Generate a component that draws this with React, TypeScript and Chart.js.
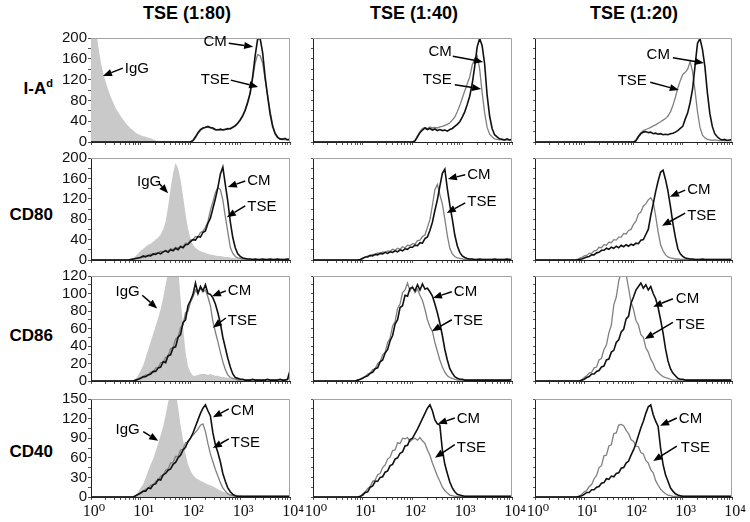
import React, { useEffect, useRef } from "react";
import { Chart, registerables } from "chart.js";

Chart.register(...registerables);

// ---------------- bins (log10 channel, 0.05 decade apart) ----------------
const BIN_STEP = 0.05;
const N_BINS = 81;
const BIN_X: number[] = Array.from({ length: N_BINS }, (_, i) => Math.pow(10, i * BIN_STEP));

// x tick positions (log decades with minor ticks)
const X_TICKS: number[] = [];
for (let d = 0; d < 4; d++) for (let m = 1; m < 10; m++) X_TICKS.push(m * Math.pow(10, d));
X_TICKS.push(10000);
const SUP = ["⁰", "¹", "²", "³", "⁴"];

const COLUMN_TITLES = ["TSE (1:80)", "TSE (1:40)", "TSE (1:20)"];
const ROW_NAMES = ["I-A", "CD80", "CD86", "CD40"];
const Y_MAX = [200, 200, 120, 150];
const Y_MINOR = [20, 20, 10, 15];
const Y_LABEL_STEP = [40, 40, 20, 30];

// ---------------- I-A(d) ----------------
const IGG_IA = [
  262, 246, 216, 182, 152, 131, 114, 99, 86, 75,
  64, 57, 49, 43, 36, 31, 26, 22, 18, 15,
  13, 11, 10, 8, 7, 5, 3, 2, 2, 1,
  1, 1, 0, 0, 0, 0, 0, 0, 0, 0,
  0, 0, 0, 0, 0, 0, 0, 0, 0, 0,
  0, 0, 0, 0, 0, 0, 0, 0, 0, 0,
  0, 0, 0, 0, 0, 0, 0, 0, 0, 0,
  0, 0, 0, 0, 0, 0, 0, 0, 0, 0,
  0,
];
const CM_IA_80 = [
  0, 0, 0, 0, 0, 0, 0, 0, 0, 0,
  0, 0, 0, 0, 0, 0, 0, 0, 0, 0,
  0, 0, 0, 0, 0, 0, 0, 0, 0, 0,
  0, 0, 0, 0, 0, 0, 0, 0, 0, 0,
  0, 3, 10, 18, 24, 27, 28, 30, 28, 27,
  24, 23, 25, 23, 24, 26, 25, 28, 31, 36,
  42, 50, 61, 76, 94, 126, 166, 198, 199, 172,
  125, 88, 54, 30, 16, 9, 6, 5, 7, 4,
  6,
];
const TSE_IA_80 = [
  0, 0, 0, 0, 0, 0, 0, 0, 0, 0,
  0, 0, 0, 0, 0, 0, 0, 0, 0, 0,
  0, 0, 0, 0, 0, 0, 0, 0, 0, 0,
  0, 0, 0, 0, 0, 0, 0, 0, 0, 0,
  0, 2, 8, 16, 22, 26, 29, 28, 27, 25,
  23, 24, 22, 24, 25, 24, 27, 29, 32, 37,
  44, 52, 63, 78, 96, 122, 152, 168, 166, 152,
  120, 90, 60, 34, 18, 10, 5, 6, 4, 5,
  3,
];
const CM_IA_40 = [
  0, 0, 0, 0, 0, 0, 0, 0, 0, 0,
  0, 0, 0, 0, 0, 0, 0, 0, 0, 0,
  0, 0, 0, 0, 0, 0, 0, 0, 0, 0,
  0, 0, 0, 0, 0, 0, 0, 0, 0, 0,
  0, 2, 10, 18, 23, 27, 24, 26, 23, 25,
  22, 24, 22, 23, 21, 24, 26, 30, 34, 39,
  48, 58, 72, 88, 112, 145, 183, 199, 185, 150,
  90, 50, 26, 14, 10, 6, 5, 4, 6, 4,
  5,
];
const TSE_IA_40 = [
  0, 0, 0, 0, 0, 0, 0, 0, 0, 0,
  0, 0, 0, 0, 0, 0, 0, 0, 0, 0,
  0, 0, 0, 0, 0, 0, 0, 0, 0, 0,
  0, 0, 0, 0, 0, 0, 0, 0, 0, 0,
  0, 3, 12, 20, 26, 28, 26, 29, 27, 28,
  27, 29, 30, 32, 34, 37, 42, 48, 58, 70,
  84, 98, 112, 125, 148, 160, 166, 140, 95, 56,
  28, 15, 10, 6, 5, 4, 5, 3, 4, 3,
  4,
];
const CM_IA_20 = [
  0, 0, 0, 0, 0, 0, 0, 0, 0, 0,
  0, 0, 0, 0, 0, 0, 0, 0, 0, 0,
  0, 0, 0, 0, 0, 0, 0, 0, 0, 0,
  0, 0, 0, 0, 0, 0, 0, 0, 0, 0,
  0, 2, 10, 16, 19, 20, 18, 19, 16, 17,
  15, 16, 14, 15, 14, 16, 17, 19, 22, 26,
  30, 44, 56, 76, 102, 147, 190, 199, 178, 145,
  95, 55, 30, 16, 10, 6, 4, 5, 3, 4,
  5,
];
const TSE_IA_20 = [
  0, 0, 0, 0, 0, 0, 0, 0, 0, 0,
  0, 0, 0, 0, 0, 0, 0, 0, 0, 0,
  0, 0, 0, 0, 0, 0, 0, 0, 0, 0,
  0, 0, 0, 0, 0, 0, 0, 0, 0, 0,
  0, 4, 12, 18, 22, 24, 26, 28, 31, 33,
  36, 39, 42, 45, 50, 58, 70, 86, 104, 118,
  130, 134, 140, 155, 135, 98, 58, 28, 13, 8,
  5, 4, 3, 4, 3, 2, 3, 2, 3, 2,
  3,
];

// ---------------- CD80 ----------------
const IGG_CD80 = [
  0, 0, 0, 0, 0, 0, 0, 0, 0, 0,
  0, 0, 0, 0, 0, 0, 1, 4, 8, 13,
  18, 22, 26, 30, 32, 36, 40, 44, 50, 60,
  75, 105, 140, 170, 190, 180, 158, 125, 90, 62,
  42, 30, 24, 20, 17, 15, 14, 12, 11, 10,
  9, 8, 8, 7, 6, 6, 5, 4, 4, 3,
  3, 2, 2, 1, 1, 0, 0, 0, 0, 0,
  0, 0, 0, 0, 0, 0, 0, 0, 0, 0,
  0,
];
const CM_CD80_80 = [
  0, 0, 0, 0, 0, 0, 0, 0, 0, 0,
  0, 0, 0, 0, 0, 0, 1, 2, 3, 4,
  5, 8, 6, 9, 8, 12, 11, 14, 12, 16,
  18, 15, 20, 18, 23, 20, 26, 24, 30, 31,
  36, 40, 39, 46, 45, 54, 57, 72, 82, 101,
  120, 142, 168, 182, 148, 115, 75, 44, 24, 12,
  7, 4, 3, 2, 2, 1, 2, 1, 1, 2,
  1, 1, 2, 1, 1, 2, 1, 1, 1, 2,
  1,
];
const TSE_CD80_80 = [
  0, 0, 0, 0, 0, 0, 0, 0, 0, 0,
  0, 0, 0, 0, 0, 0, 1, 2, 3, 4,
  6, 5, 9, 8, 12, 10, 14, 13, 17, 15,
  19, 17, 22, 20, 25, 23, 28, 26, 33, 32,
  39, 40, 46, 45, 54, 56, 64, 75, 97, 114,
  132, 142, 138, 118, 85, 55, 25, 13, 7, 4,
  3, 2, 2, 1, 1, 1, 1, 1, 1, 1,
  1, 1, 1, 1, 1, 1, 1, 1, 1, 1,
  1,
];
const CM_CD80_40 = [
  0, 0, 0, 0, 0, 0, 0, 0, 0, 0,
  0, 0, 0, 0, 0, 0, 0, 0, 0, 1,
  3, 6, 6, 9, 8, 11, 10, 13, 12, 15,
  13, 16, 15, 18, 16, 20, 18, 22, 21, 25,
  25, 29, 28, 34, 33, 42, 45, 58, 74, 97,
  118, 145, 170, 178, 140, 108, 80, 49, 28, 15,
  8, 5, 3, 2, 2, 1, 1, 2, 1, 1,
  1, 1, 1, 2, 1, 1, 1, 1, 2, 1,
  1,
];
const TSE_CD80_40 = [
  0, 0, 0, 0, 0, 0, 0, 0, 0, 0,
  0, 0, 0, 0, 0, 0, 0, 0, 0, 1,
  4, 5, 8, 8, 11, 11, 14, 13, 16, 15,
  18, 17, 21, 19, 23, 21, 26, 24, 29, 28,
  32, 31, 38, 39, 46, 49, 64, 79, 107, 138,
  148, 128, 110, 80, 48, 23, 12, 7, 4, 3,
  2, 1, 1, 1, 1, 1, 1, 1, 1, 1,
  1, 1, 1, 1, 1, 1, 1, 1, 1, 1,
  1,
];
const CM_CD80_20 = [
  0, 0, 0, 0, 0, 0, 0, 0, 0, 0,
  0, 0, 0, 0, 0, 0, 0, 0, 1, 2,
  4, 6, 7, 10, 10, 14, 15, 19, 19, 23,
  21, 25, 23, 27, 24, 29, 26, 30, 27, 31,
  29, 33, 32, 39, 40, 50, 60, 87, 110, 134,
  155, 172, 176, 158, 135, 105, 72, 45, 22, 12,
  7, 4, 3, 2, 2, 1, 1, 1, 2, 1,
  1, 1, 1, 1, 1, 1, 1, 1, 1, 1,
  1,
];
const TSE_CD80_20 = [
  0, 0, 0, 0, 0, 0, 0, 0, 0, 0,
  0, 0, 0, 0, 0, 0, 0, 1, 3, 5,
  8, 9, 13, 13, 18, 19, 25, 24, 30, 29,
  35, 34, 40, 39, 45, 45, 52, 51, 58, 60,
  70, 76, 90, 94, 106, 110, 118, 122, 114, 86,
  55, 30, 18, 10, 6, 4, 3, 2, 2, 1,
  1, 1, 1, 1, 1, 1, 1, 1, 1, 1,
  1, 1, 1, 1, 1, 1, 1, 1, 1, 1,
  1,
];

// ---------------- CD86 ----------------
const IGG_CD86 = [
  0, 0, 0, 0, 0, 0, 0, 0, 0, 0,
  0, 0, 0, 0, 0, 0, 0, 0, 3, 7,
  12, 18, 27, 36, 45, 54, 63, 72, 82, 95,
  110, 124, 135, 140, 138, 130, 95, 62, 33, 17,
  10, 6, 6, 7, 8, 8, 8, 7, 8, 7,
  6, 6, 5, 5, 4, 4, 3, 3, 2, 2,
  1, 0, 0, 0, 0, 0, 0, 0, 0, 0,
  0, 0, 0, 0, 0, 0, 0, 0, 0, 0,
  0,
];
const CM_CD86_80 = [
  0, 0, 0, 0, 0, 0, 0, 0, 0, 0,
  0, 0, 0, 0, 0, 0, 0, 0, 1, 2,
  3, 5, 5, 7, 8, 11, 11, 15, 16, 22,
  21, 29, 30, 38, 39, 50, 53, 67, 70, 86,
  92, 99, 112, 100, 108, 103, 110, 100, 99, 95,
  88, 78, 66, 50, 38, 26, 16, 8, 4, 3,
  2, 2, 1, 1, 1, 2, 1, 1, 1, 1,
  1, 2, 1, 1, 1, 1, 2, 1, 1, 2,
  12,
];
const TSE_CD86_80 = [
  0, 0, 0, 0, 0, 0, 0, 0, 0, 0,
  0, 0, 0, 0, 0, 0, 0, 0, 1, 2,
  4, 4, 7, 7, 10, 10, 15, 15, 21, 21,
  27, 28, 37, 38, 48, 50, 61, 64, 78, 80,
  90, 96, 104, 100, 106, 102, 104, 96, 86, 68,
  56, 45, 33, 22, 13, 7, 4, 3, 2, 1,
  1, 1, 1, 1, 1, 1, 1, 1, 1, 1,
  1, 1, 1, 1, 1, 1, 1, 1, 1, 1,
  6,
];
const CM_CD86_40 = [
  0, 0, 0, 0, 0, 0, 0, 0, 0, 0,
  0, 0, 0, 0, 0, 0, 0, 0, 1, 2,
  3, 5, 6, 9, 10, 14, 15, 22, 24, 32,
  36, 46, 52, 65, 70, 84, 86, 98, 97, 106,
  107, 103, 110, 104, 111, 105, 106, 102, 97, 88,
  78, 66, 52, 36, 24, 14, 9, 5, 3, 2,
  2, 1, 1, 1, 1, 1, 1, 1, 1, 1,
  1, 1, 1, 1, 1, 1, 1, 1, 1, 1,
  2,
];
const TSE_CD86_40 = [
  0, 0, 0, 0, 0, 0, 0, 0, 0, 0,
  0, 0, 0, 0, 0, 0, 0, 0, 1, 2,
  4, 5, 8, 9, 13, 14, 20, 22, 30, 33,
  44, 49, 63, 68, 83, 88, 101, 104, 112, 103,
  108, 101, 105, 98, 92, 82, 70, 62, 57, 44,
  34, 24, 16, 10, 6, 4, 3, 2, 1, 1,
  1, 1, 1, 1, 1, 1, 1, 1, 1, 1,
  1, 1, 1, 1, 1, 1, 1, 1, 1, 1,
  1,
];
const CM_CD86_20 = [
  0, 0, 0, 0, 0, 0, 0, 0, 0, 0,
  0, 0, 0, 0, 0, 0, 0, 0, 0, 1,
  2, 4, 5, 8, 8, 11, 12, 16, 17, 24,
  25, 33, 35, 44, 47, 56, 59, 71, 74, 89,
  96, 104, 108, 112, 106, 110, 104, 108, 100, 94,
  84, 70, 55, 37, 23, 14, 9, 6, 3, 2,
  2, 1, 1, 1, 1, 1, 1, 1, 1, 1,
  1, 1, 1, 1, 1, 1, 1, 1, 1, 1,
  1,
];
const TSE_CD86_20 = [
  0, 0, 0, 0, 0, 0, 0, 0, 0, 0,
  0, 0, 0, 0, 0, 0, 0, 0, 0, 1,
  4, 6, 9, 10, 15, 16, 24, 26, 36, 41,
  55, 64, 87, 96, 114, 125, 128, 122, 106, 90,
  82, 69, 64, 53, 50, 38, 33, 25, 20, 13,
  10, 7, 5, 4, 3, 2, 1, 1, 1, 1,
  1, 1, 1, 1, 1, 1, 1, 1, 1, 1,
  1, 1, 1, 1, 1, 1, 1, 1, 1, 1,
  1,
];

// ---------------- CD40 ----------------
const IGG_CD40 = [
  0, 0, 0, 0, 0, 0, 0, 0, 0, 0,
  0, 0, 0, 0, 0, 0, 0, 0, 4, 8,
  14, 20, 30, 40, 50, 58, 70, 82, 95, 108,
  125, 145, 158, 162, 160, 138, 110, 88, 66, 50,
  40, 34, 29, 27, 25, 23, 21, 19, 18, 16,
  14, 12, 10, 8, 7, 6, 5, 4, 4, 3,
  3, 2, 1, 0, 0, 0, 0, 0, 0, 0,
  0, 0, 0, 0, 0, 0, 0, 0, 0, 0,
  0,
];
const CM_CD40_80 = [
  0, 0, 0, 0, 0, 0, 0, 0, 0, 0,
  0, 0, 0, 0, 0, 0, 0, 0, 2, 4,
  6, 9, 9, 14, 13, 19, 20, 27, 26, 34,
  36, 41, 43, 50, 53, 60, 64, 72, 76, 85,
  90, 98, 108, 118, 128, 136, 141, 132, 124, 98,
  80, 68, 54, 36, 24, 14, 8, 4, 2, 1,
  1, 1, 1, 1, 1, 1, 1, 1, 1, 1,
  1, 1, 1, 1, 1, 1, 1, 1, 1, 1,
  1,
];
const TSE_CD40_80 = [
  0, 0, 0, 0, 0, 0, 0, 0, 0, 0,
  0, 0, 0, 0, 0, 0, 0, 0, 2, 4,
  7, 8, 12, 13, 18, 18, 24, 25, 32, 33,
  41, 43, 52, 53, 62, 62, 72, 73, 83, 84,
  90, 95, 99, 104, 110, 112, 100, 82, 66, 54,
  42, 32, 22, 14, 9, 5, 3, 2, 1, 1,
  1, 1, 1, 1, 1, 1, 1, 1, 1, 1,
  1, 1, 1, 1, 1, 1, 1, 1, 1, 1,
  1,
];
const CM_CD40_40 = [
  0, 0, 0, 0, 0, 0, 0, 0, 0, 0,
  0, 0, 0, 0, 0, 0, 0, 0, 0, 1,
  3, 7, 8, 15, 17, 24, 24, 30, 31, 38,
  40, 48, 50, 58, 60, 67, 69, 78, 79, 88,
  90, 97, 104, 112, 120, 128, 136, 141, 132, 118,
  112, 110, 72, 50, 36, 23, 14, 8, 4, 3,
  2, 1, 1, 1, 1, 1, 1, 1, 1, 1,
  1, 1, 1, 1, 1, 1, 1, 1, 1, 1,
  1,
];
const TSE_CD40_40 = [
  0, 0, 0, 0, 0, 0, 0, 0, 0, 0,
  0, 0, 0, 0, 0, 0, 0, 0, 0, 1,
  5, 8, 13, 16, 24, 26, 34, 36, 45, 49,
  58, 61, 71, 72, 83, 82, 90, 89, 91, 85,
  88, 90, 87, 91, 86, 82, 72, 64, 52, 42,
  32, 24, 15, 10, 6, 3, 2, 1, 1, 1,
  1, 1, 1, 1, 1, 1, 1, 1, 1, 1,
  1, 1, 1, 1, 1, 1, 1, 1, 1, 1,
  1,
];
const CM_CD40_20 = [
  0, 0, 0, 0, 0, 0, 0, 0, 0, 0,
  0, 0, 0, 0, 0, 0, 0, 0, 1, 2,
  4, 7, 7, 11, 11, 15, 16, 21, 22, 28,
  27, 32, 31, 36, 37, 44, 45, 52, 55, 64,
  72, 82, 94, 106, 116, 128, 138, 141, 126, 116,
  108, 75, 50, 34, 24, 14, 9, 5, 3, 2,
  1, 1, 1, 1, 1, 1, 1, 1, 1, 1,
  1, 1, 1, 1, 1, 1, 1, 1, 1, 1,
  1,
];
const TSE_CD40_20 = [
  0, 0, 0, 0, 0, 0, 0, 0, 0, 0,
  0, 0, 0, 0, 0, 0, 0, 0, 1, 4,
  8, 10, 16, 19, 28, 33, 45, 48, 63, 64,
  78, 80, 97, 98, 110, 111, 109, 102, 97, 88,
  85, 78, 77, 68, 66, 56, 52, 42, 37, 25,
  18, 12, 8, 5, 3, 2, 1, 1, 1, 1,
  1, 1, 1, 1, 1, 1, 1, 1, 1, 1,
  1, 1, 1, 1, 1, 1, 1, 1, 1, 1,
  1,
];

// ---------------- annotations: [label, align, textLog, textVal, fromLog, fromVal, toLog, toVal] ----------------
type Note = [string, "left" | "right", number, number, number, number, number, number];
const NOTES_IA: Note[][] = [
  [["IgG", "left", 0.68, 140, 0.64, 142, 0.24, 127], ["CM", "right", 2.73, 192, 2.77, 190, 3.26, 183], ["TSE", "right", 2.79, 119, 2.81, 119, 3.36, 106]],
  [["CM", "right", 2.79, 173, 2.81, 165, 3.42, 154], ["TSE", "right", 2.79, 119, 2.85, 110, 3.38, 102]],
  [["CM", "right", 2.74, 167, 2.8, 162, 3.43, 152], ["TSE", "right", 2.27, 117, 2.34, 115, 2.92, 100]],
];
const NOTES_CD80: Note[][] = [
  [["IgG", "right", 1.41, 153, 1.37, 150, 1.55, 131], ["CM", "left", 3.14, 155, 3.1, 155, 2.75, 143], ["TSE", "left", 3.14, 104, 3.1, 106, 2.73, 84]],
  [["CM", "left", 3.1, 167, 3.06, 167, 2.71, 159], ["TSE", "left", 3.1, 114, 3.06, 112, 2.69, 92]],
  [["CM", "left", 3.09, 137, 3.05, 137, 2.74, 124], ["TSE", "left", 3.09, 86, 3.05, 92, 2.58, 67]],
];
const NOTES_CD86: Note[][] = [
  [["IgG", "right", 0.98, 102, 1.03, 98, 1.33, 83], ["CM", "left", 2.75, 103, 2.71, 103, 2.43, 97], ["TSE", "left", 2.75, 69, 2.71, 72, 2.45, 61]],
  [["CM", "left", 2.83, 102, 2.79, 102, 2.41, 95], ["TSE", "left", 2.83, 69, 2.79, 70, 2.39, 57]],
  [["CM", "left", 2.86, 94, 2.8, 94, 2.4, 85], ["TSE", "left", 2.86, 64, 2.8, 67, 2.23, 48]],
];
const NOTES_CD40: Note[][] = [
  [["IgG", "right", 0.98, 103, 1.05, 100, 1.35, 86], ["CM", "left", 2.81, 132, 2.77, 135, 2.45, 122], ["TSE", "left", 2.81, 83, 2.77, 89, 2.45, 75]],
  [["CM", "left", 2.89, 119, 2.85, 121, 2.51, 112], ["TSE", "left", 2.89, 75, 2.85, 80, 2.45, 60]],
  [["CM", "left", 2.92, 119, 2.88, 121, 2.54, 109], ["TSE", "left", 2.96, 75, 2.88, 78, 2.4, 55]],
];

const IGG_ROWS = [IGG_IA, IGG_CD80, IGG_CD86, IGG_CD40];
const CM_ROWS = [
  [CM_IA_80, CM_IA_40, CM_IA_20],
  [CM_CD80_80, CM_CD80_40, CM_CD80_20],
  [CM_CD86_80, CM_CD86_40, CM_CD86_20],
  [CM_CD40_80, CM_CD40_40, CM_CD40_20],
];
const TSE_ROWS = [
  [TSE_IA_80, TSE_IA_40, TSE_IA_20],
  [TSE_CD80_80, TSE_CD80_40, TSE_CD80_20],
  [TSE_CD86_80, TSE_CD86_40, TSE_CD86_20],
  [TSE_CD40_80, TSE_CD40_40, TSE_CD40_20],
];
const NOTE_ROWS = [NOTES_IA, NOTES_CD80, NOTES_CD86, NOTES_CD40];

// ---------------- layout ----------------
const PANEL_LEFT = [91, 313, 535];
const PANEL_RIGHT = [290, 512, 732];
const PANEL_TOP = [38, 158, 276, 399];
const PANEL_BOTTOM = [142, 260, 381, 497];
const TITLE_CX = [187, 414, 634];
const ROW_LABEL_CY = [89, 215, 336, 452];

const SANS = '"Liberation Sans", Arial, Helvetica, sans-serif';
const SERIF = '"Liberation Serif", "Times New Roman", "DejaVu Serif", serif';

function toPoints(arr: number[]) {
  return BIN_X.map((x, i) => ({ x, y: arr[i] ?? 0 }));
}

function Panel({ row, col }: { row: number; col: number }) {
  const ref = useRef<HTMLCanvasElement | null>(null);
  const yW = col === 0 ? 44 : 4;
  const padL = col === 0 ? 0 : 12;
  const padT = 10;
  const padR = 14;
  const xH = row === 3 ? 24 : 4;
  const padB = 8;
  const pw = PANEL_RIGHT[col] - PANEL_LEFT[col];
  const ph = PANEL_BOTTOM[row] - PANEL_TOP[row];
  const left = PANEL_LEFT[col] - yW - padL;
  const top = PANEL_TOP[row] - padT;
  const width = pw + yW + padL + padR;
  const height = ph + padT + xH + padB;

  useEffect(() => {
    if (!ref.current) return;
    const ymax = Y_MAX[row];
    const yTicks: number[] = [];
    for (let v = 0; v <= ymax + 1e-9; v += Y_MINOR[row]) yTicks.push(v);
    const notes = NOTE_ROWS[row][col];

    const datasets: any[] = [
      {
        label: "CM",
        data: toPoints(CM_ROWS[row][col]),
        borderColor: "#111111",
        borderWidth: 1.6,
        pointRadius: 0,
        fill: false,
        tension: 0,
      },
      {
        label: "TSE",
        data: toPoints(TSE_ROWS[row][col]),
        borderColor: "#808080",
        borderWidth: 1.3,
        pointRadius: 0,
        fill: false,
        tension: 0,
      },
    ];
    if (col === 0) {
      datasets.push({
        label: "IgG",
        data: toPoints(IGG_ROWS[row]),
        borderWidth: 0,
        borderColor: "rgba(0,0,0,0)",
        backgroundColor: "#c9c9c9",
        pointRadius: 0,
        fill: "origin",
        tension: 0,
      });
    }

    const decor = {
      id: "panelDecor",
      afterDraw(chart: any) {
        const { ctx, chartArea: a, scales } = chart;
        const xs = scales.x;
        const ys = scales.y;
        ctx.save();
        ctx.strokeStyle = "#a3a3a3";
        ctx.lineWidth = 1;
        ctx.beginPath();
        ctx.moveTo(a.left, Math.round(a.top) + 0.5);
        ctx.lineTo(Math.round(a.right) - 0.5, Math.round(a.top) + 0.5);
        ctx.lineTo(Math.round(a.right) - 0.5, a.bottom);
        ctx.stroke();

        ctx.fillStyle = "#000";
        ctx.strokeStyle = "#000";
        for (const n of notes) {
          const [label, align, tL, tV, fL, fV, hL, hV] = n;
          const x1 = xs.getPixelForValue(Math.pow(10, fL));
          const y1 = ys.getPixelForValue(fV);
          const x2 = xs.getPixelForValue(Math.pow(10, hL));
          const y2 = ys.getPixelForValue(hV);
          const ang = Math.atan2(y2 - y1, x2 - x1);
          const head = 9;
          const hw = 3.6;
          const bx = x2 - head * Math.cos(ang);
          const by = y2 - head * Math.sin(ang);
          ctx.lineWidth = 1.5;
          ctx.beginPath();
          ctx.moveTo(x1, y1);
          ctx.lineTo(bx, by);
          ctx.stroke();
          ctx.beginPath();
          ctx.moveTo(x2, y2);
          ctx.lineTo(bx + hw * Math.sin(ang), by - hw * Math.cos(ang));
          ctx.lineTo(bx - hw * Math.sin(ang), by + hw * Math.cos(ang));
          ctx.closePath();
          ctx.fill();
          ctx.font = `15px ${SANS}`;
          ctx.textAlign = align;
          ctx.textBaseline = "middle";
          ctx.fillText(label, xs.getPixelForValue(Math.pow(10, tL)), ys.getPixelForValue(tV));
        }
        ctx.restore();
      },
    };

    const chart = new Chart(ref.current, {
      type: "line",
      data: { datasets },
      plugins: [decor as any],
      options: {
        animation: false,
        responsive: false,
        maintainAspectRatio: false,
        events: [],
        layout: { padding: { left: padL, top: padT, right: padR, bottom: padB } },
        plugins: { legend: { display: false }, tooltip: { enabled: false }, title: { display: false } },
        scales: {
          x: {
            type: "logarithmic",
            min: 1,
            max: 10000,
            afterBuildTicks: (s: any) => {
              s.ticks = X_TICKS.map((v) => ({ value: v }));
            },
            afterFit: (s: any) => {
              s.height = xH;
            },
            border: { display: true, color: "#222", width: 1 },
            grid: { display: true, drawOnChartArea: false, drawTicks: true, tickLength: 3, color: "#555" },
            ticks: {
              autoSkip: false,
              maxRotation: 0,
              minRotation: 0,
              padding: 2,
              labelOffset: 3,
              color: "#111",
              font: { family: SERIF, size: 16 },
              callback: (v: any) => {
                if (row !== 3) return "";
                const e = Math.round(Math.log10(Number(v)));
                return Math.abs(Math.pow(10, e) - Number(v)) < 1e-6 ? "10" + SUP[e] : "";
              },
            },
          },
          y: {
            type: "linear",
            min: 0,
            max: ymax,
            afterBuildTicks: (s: any) => {
              s.ticks = yTicks.map((v) => ({ value: v }));
            },
            afterFit: (s: any) => {
              s.width = yW;
            },
            border: { display: true, color: "#222", width: 1 },
            grid: { display: true, drawOnChartArea: false, drawTicks: true, tickLength: col === 0 ? 3 : 2, color: "#555" },
            ticks: {
              autoSkip: false,
              padding: 1,
              color: "#111",
              font: { family: SANS, size: 15 },
              callback: (v: any) =>
                col === 0 && Math.round(Number(v)) % Y_LABEL_STEP[row] === 0 ? String(Math.round(Number(v))) : "",
            },
          },
        },
      } as any,
    });
    return () => chart.destroy();
  }, [row, col]);

  return (
    <canvas
      ref={ref}
      width={width}
      height={height}
      style={{ position: "absolute", left, top, width, height }}
    />
  );
}

export default function App() {
  const panels: JSX.Element[] = [];
  for (let r = 0; r < 4; r++) for (let c = 0; c < 3; c++) panels.push(<Panel key={`${r}-${c}`} row={r} col={c} />);
  return (
    <div
      style={{
        position: "absolute",
        left: 0,
        top: 0,
        width: 750,
        height: 522,
        background: "#fff",
        overflow: "hidden",
        fontFamily: SANS,
        color: "#000",
      }}
    >
      {COLUMN_TITLES.map((t, i) => (
        <div
          key={t}
          style={{
            position: "absolute",
            left: TITLE_CX[i] - 100,
            width: 200,
            top: 1,
            lineHeight: "24px",
            fontSize: 18,
            fontWeight: "bold",
            textAlign: "center",
          }}
        >
          {t}
        </div>
      ))}
      {ROW_NAMES.map((n, i) => (
        <div
          key={n}
          style={{
            position: "absolute",
            left: 0,
            width: 53,
            top: ROW_LABEL_CY[i] - 12,
            lineHeight: "24px",
            fontSize: 17,
            fontWeight: "bold",
            textAlign: "right",
            whiteSpace: "nowrap",
          }}
        >
          {n}
          {i === 0 ? <span style={{ fontSize: 11, position: "relative", top: -7 }}>d</span> : null}
        </div>
      ))}
      {panels}
    </div>
  );
}
